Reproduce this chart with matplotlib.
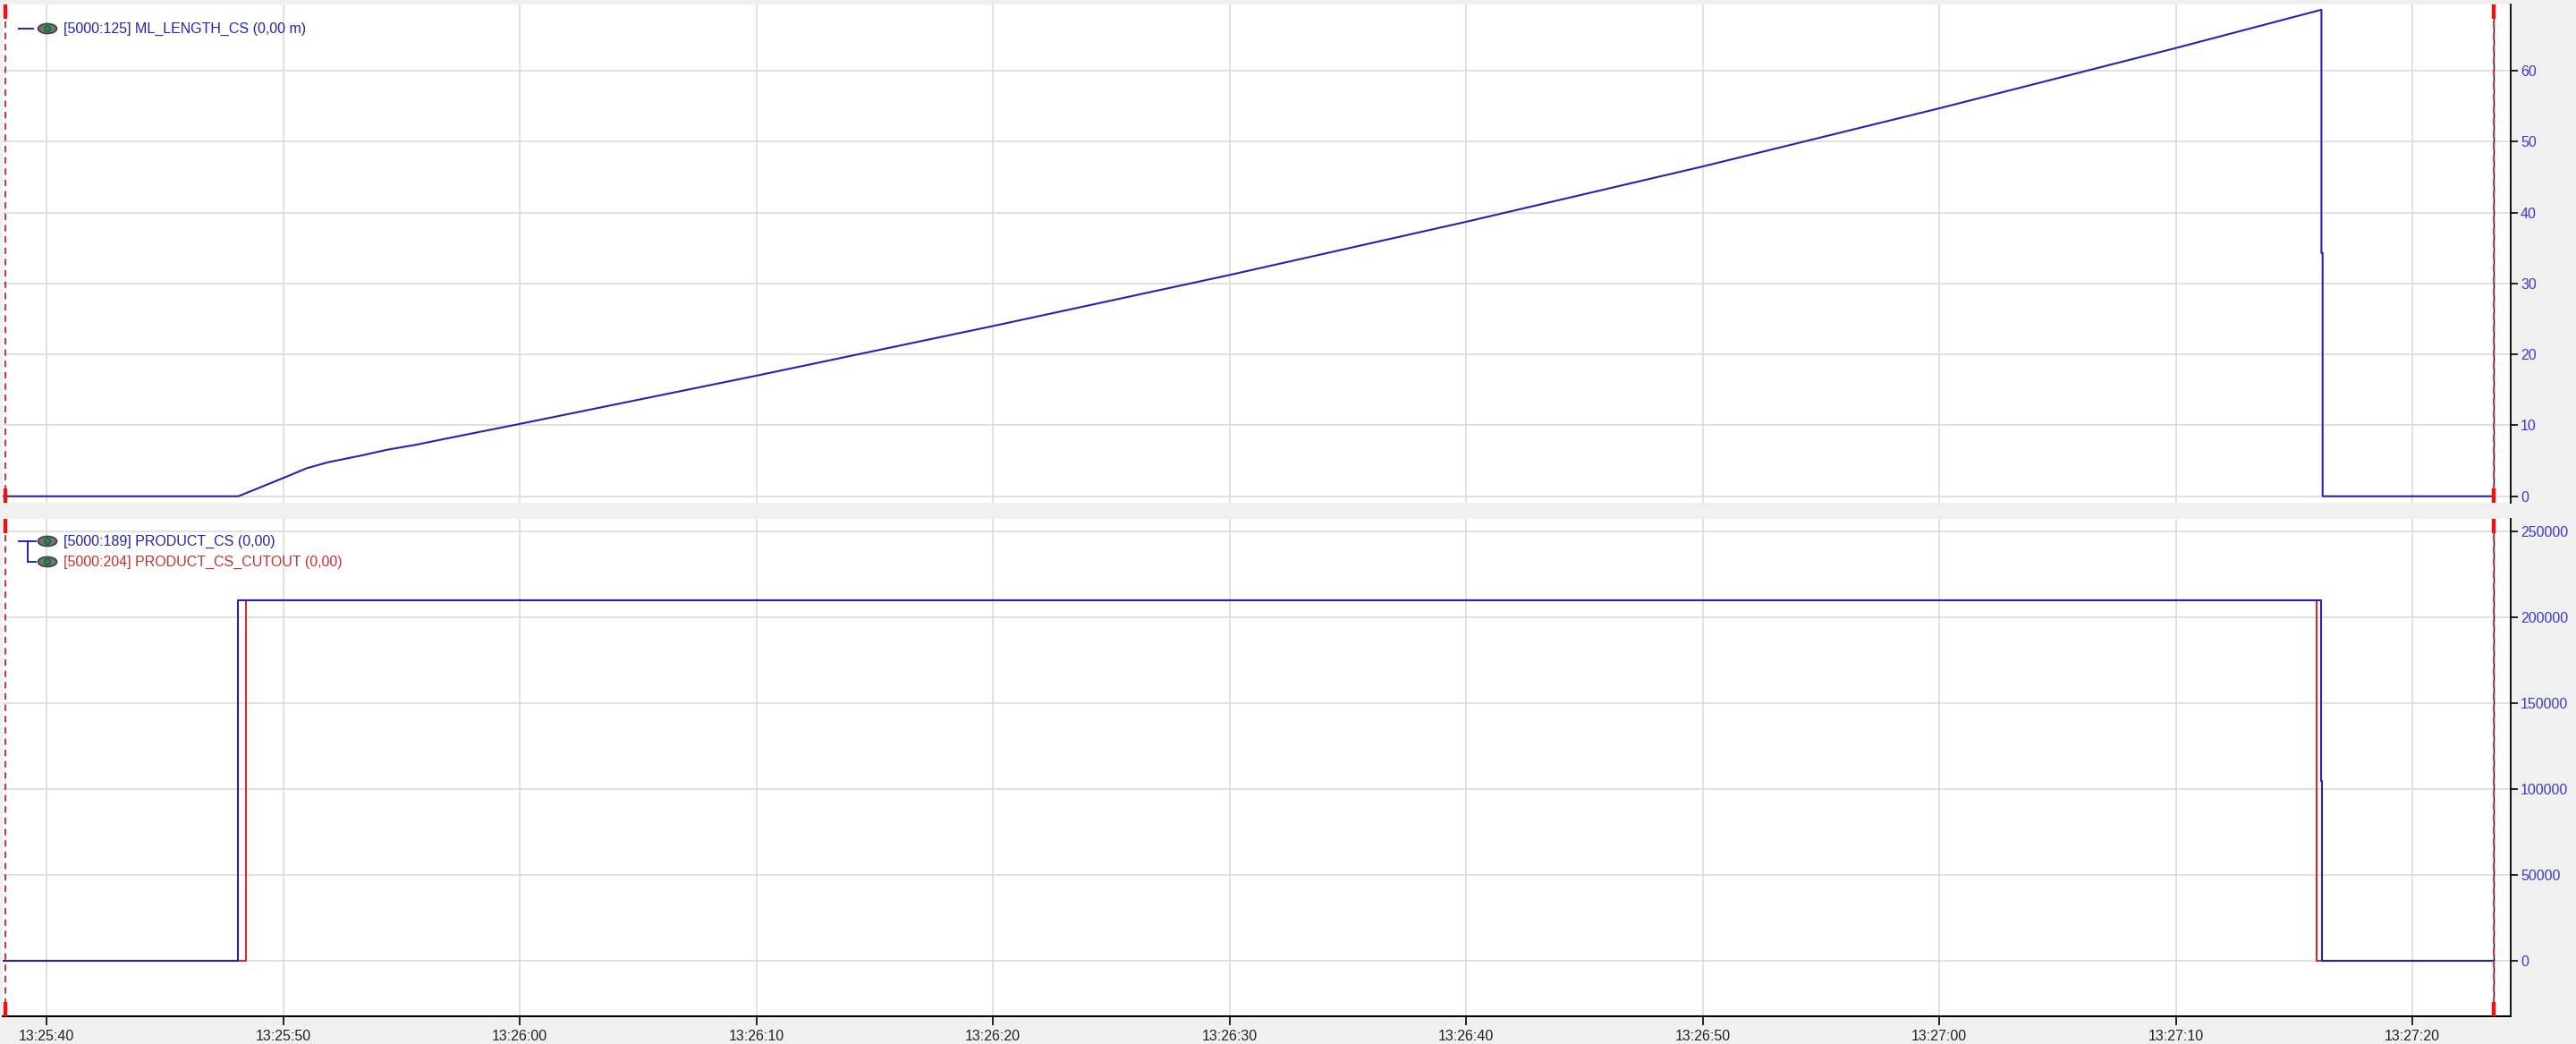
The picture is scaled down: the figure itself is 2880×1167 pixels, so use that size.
import matplotlib
matplotlib.use("Agg")
import matplotlib.pyplot as plt
import matplotlib.dates as mdates
from matplotlib.patches import Ellipse
from matplotlib.lines import Line2D
import pandas as pd

DAY = "2024-01-01 "

# ML_LENGTH_CS (m)
ml_time = ["13:25:30.00", "13:25:48.10", "13:25:50.00", "13:25:51.00", "13:25:51.90",
           "13:25:53.15", "13:25:54.40", "13:25:55.67", "13:25:56.93", "13:26:00.00",
           "13:26:10.00", "13:26:20.00", "13:26:30.00", "13:26:40.00", "13:26:50.00",
           "13:27:00.00", "13:27:10.00", "13:27:16.15", "13:27:16.15", "13:27:16.20",
           "13:27:16.20", "13:27:23.45"]
ml_value = [0, 0, 2.57, 3.96, 4.8, 5.64, 6.56, 7.3, 8.16, 10.2,
            17.0, 24.0, 31.2, 38.7, 46.5, 54.7, 63.2, 68.6, 34.3, 34.3,
            0, 0]

# PRODUCT_CS / PRODUCT_CS_CUTOUT (step signals)
prod_time = ["13:25:30.00", "13:25:48.08", "13:27:16.13", "13:27:16.19", "13:27:23.45"]
prod_value = [0, 210000, 105000, 0, 0]
cut_time = ["13:25:30.00", "13:25:48.42", "13:27:15.94", "13:27:23.45"]
cut_value = [0, 210000, 0, 0]

top_ticks = [0, 10, 20, 30, 40, 50, 60]
bot_ticks = [0, 50000, 100000, 150000, 200000, 250000]

cursor_left = "13:25:38.25"
cursor_right = "13:27:23.43"

BLUE = "#2323b4"
RED = "#dc2b2b"
TICKBLUE = "#3a3acc"
GRID = "#d9d9d9"
BG = "#f0f0f0"
FONT = ["Liberation Sans", "DejaVu Sans"]


def ts(s):
    return pd.to_datetime([DAY + t for t in s]) if isinstance(s, list) else pd.Timestamp(DAY + s)


W, H = 2880, 1167
fig = plt.figure(figsize=(28.8, 11.67), dpi=100, facecolor=BG)
plt.rcParams["font.family"] = FONT

left_px, right_px = 3, 2807
ax1 = fig.add_axes([left_px / W, 1 - 562 / H, (right_px - left_px) / W, (562 - 5) / H])
ax2 = fig.add_axes([left_px / W, 1 - 1136 / H, (right_px - left_px) / W, (1136 - 580) / H])

ax1.plot(ts(ml_time), ml_value, color=BLUE, lw=1.5, zorder=3)
ax2.plot(ts(cut_time), cut_value, color=RED, lw=1.5, drawstyle="steps-post", zorder=3)
ax2.plot(ts(prod_time), prod_value, color=BLUE, lw=1.5, drawstyle="steps-post", zorder=3)

ax1.set_ylim(-0.92, 69.34)
ax2.set_ylim(-32140, 257450)
ax1.set_yticks(top_ticks)
ax2.set_yticks(bot_ticks)

for ax in (ax1, ax2):
    ax.set_facecolor("white")
    ax.set_xlim(ts("13:25:38.14"), ts("13:27:24.15"))
    ax.xaxis.set_major_locator(mdates.SecondLocator(bysecond=range(0, 60, 10)))
    ax.xaxis.set_major_formatter(mdates.DateFormatter("%H:%M:%S"))
    ax.grid(True, color=GRID, lw=1.1)
    ax.set_axisbelow(True)
    for s in ("left", "top"):
        ax.spines[s].set_visible(False)
    ax.spines["right"].set_color("black")
    ax.spines["right"].set_linewidth(1.3)
    ax.yaxis.tick_right()
    ax.tick_params(axis="y", direction="out", length=6, width=1.2, color="black",
                   labelcolor=TICKBLUE, labelsize=11.5, pad=2)

    # cursors
    cl, cr = ts(cursor_left), ts(cursor_right)
    ax.axvline(cl, color="#cc2222", lw=1.3, ls=(0, (4, 3)), zorder=4)
    ax.axvline(cr, color="black", lw=1.0, zorder=4)
    ax.axvline(cr, color="#dd3333", lw=1.4, ls=(0, (4, 3)), zorder=4)
    h_px = ax.get_position().height * H
    frac = 16 / h_px
    trans = ax.get_xaxis_transform()
    for c in (cl, cr):
        ax.plot([c, c], [1 - frac, 1], color="#ee1111", lw=3.2, transform=trans,
                solid_capstyle="butt", clip_on=False, zorder=5)
        ax.plot([c, c], [0, frac], color="#ee1111", lw=3.2, transform=trans,
                solid_capstyle="butt", clip_on=False, zorder=5)

ax1.spines["bottom"].set_visible(False)
ax1.tick_params(axis="x", bottom=False, labelbottom=False)
ax2.spines["bottom"].set_color("black")
ax2.spines["bottom"].set_linewidth(1.5)
ax2.tick_params(axis="x", direction="out", length=7, width=1.2, color="black",
                labelcolor="#222222", labelsize=11.5, pad=4)


# legend decorations (pixel positions from the top-left corner)
def px(x, y):
    return x / W, 1 - y / H


def eye(x, y):
    cx, cy = px(x, y)
    fig.add_artist(Ellipse((cx, cy), 21 / W, 11 / H, facecolor="#6f7773",
                           edgecolor="#3a403d", lw=1.2, transform=fig.transFigure))
    fig.add_artist(Ellipse((cx, cy), 7 / W, 7 / H, facecolor="#1f8a4c",
                           edgecolor="#14502e", lw=0.6, transform=fig.transFigure))


def seg(x0, y0, x1, y1, color):
    a, b = px(x0, y0)
    c, d = px(x1, y1)
    fig.add_artist(Line2D([a, c], [b, d], color=color, lw=1.4, transform=fig.transFigure))


seg(21, 32, 37, 32, BLUE)
eye(53, 32)
fig.text(*px(71, 32), "[5000:125] ML_LENGTH_CS (0,00 m)", color=BLUE, fontsize=11.5,
         va="center", ha="left")

seg(21, 605, 40, 605, BLUE)
seg(31, 605, 31, 628, BLUE)
seg(31, 628, 40, 628, BLUE)
eye(53, 605)
eye(53, 628)
fig.text(*px(71, 605), "[5000:189] PRODUCT_CS (0,00)", color=BLUE, fontsize=11.5,
         va="center", ha="left")
fig.text(*px(71, 628), "[5000:204] PRODUCT_CS_CUTOUT (0,00)", color="#c83030",
         fontsize=11.5, va="center", ha="left")

fig.savefig("out.png", dpi=100, facecolor=BG)
